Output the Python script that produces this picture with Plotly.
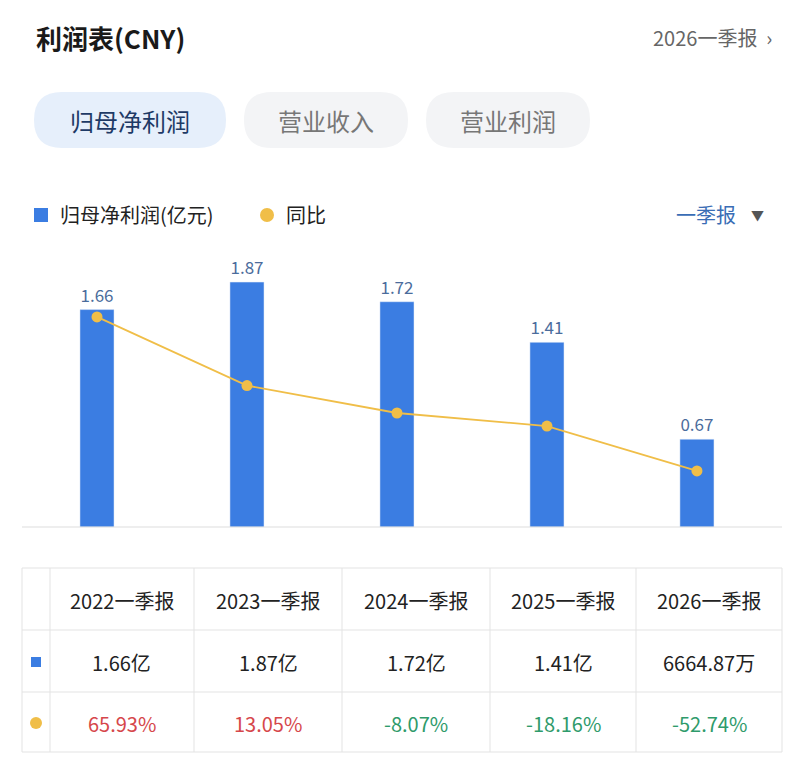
import plotly.graph_objects as go

# page body has an 8px margin, so the figure is drawn 8px in from the corner
OFF = 8
W, H = 804 - 2 * OFF, 781 - 2 * OFF
FONT = "Noto Sans CJK SC"

periods = ["2022一季报", "2023一季报", "2024一季报", "2025一季报", "2026一季报"]
profit = [1.66, 1.87, 1.72, 1.41, 0.67]
profit_text = ["1.66亿", "1.87亿", "1.72亿", "1.41亿", "6664.87万"]
yoy = [65.93, 13.05, -8.07, -18.16, -52.74]
tabs = ["归母净利润", "营业收入", "营业利润"]

BLUE = "#3B7DE2"
GOLD = "#F0BE48"
RED = "#D6474B"
GREEN = "#2F9B6B"


def px(x):
    return (x - OFF) / W


def py(y):
    return 1 - (y - OFF) / H


def pill(x0, x1, y0, y1):
    # rounded rectangle in pixel coords -> svg path in paper coords
    r = (y1 - y0) / 2
    pts = []
    pts.append(f"M{px(x0 + r)},{py(y0)}")
    pts.append(f"L{px(x1 - r)},{py(y0)}")
    pts.append(f"Q{px(x1)},{py(y0)} {px(x1)},{py(y0 + r)}")
    pts.append(f"Q{px(x1)},{py(y1)} {px(x1 - r)},{py(y1)}")
    pts.append(f"L{px(x0 + r)},{py(y1)}")
    pts.append(f"Q{px(x0)},{py(y1)} {px(x0)},{py(y0 + r)}")
    pts.append(f"Q{px(x0)},{py(y0)} {px(x0 + r)},{py(y0)} Z")
    return " ".join(pts)


fig = go.Figure()
xs = list(range(len(periods)))
fig.add_trace(go.Bar(
    x=xs, y=profit, width=0.227, marker_color=BLUE,
    text=[f"{v:.2f}" for v in profit], textposition="outside",
    textfont=dict(color="#4B6C9C", size=17), cliponaxis=False,
))
fig.add_trace(go.Scatter(
    x=xs, y=yoy, yaxis="y2", mode="lines+markers",
    line=dict(color=GOLD, width=1.8), marker=dict(color=GOLD, size=11),
))

shapes = []
ann = []

# header
ann.append(dict(x=px(34), y=py(38), text="<b>利润表(CNY)</b>", xanchor="left",
                font=dict(size=26, color="#1a1a1a")))
ann.append(dict(x=px(774), y=py(38), text="2026一季报  ›", xanchor="right",
                font=dict(size=20, color="#666")))

# tabs
tab_pos = [(34, 226), (244, 408), (426, 590)]
for i, (t, (x0, x1)) in enumerate(zip(tabs, tab_pos)):
    shapes.append(dict(type="path", xref="paper", yref="paper",
                       path=pill(x0, x1, 92, 148),
                       fillcolor="#E6EFFB" if i == 0 else "#F3F4F6",
                       line=dict(width=0), layer="below"))
    ann.append(dict(x=px((x0 + x1) / 2), y=py(120), text=t,
                    font=dict(size=24, color="#1E3A66" if i == 0 else "#777")))

# legend row
shapes.append(dict(type="rect", xref="paper", yref="paper", x0=px(34), x1=px(48),
                   y0=py(222), y1=py(208), fillcolor=BLUE, line=dict(width=0)))
ann.append(dict(x=px(58), y=py(215), text="归母净利润(亿元)", xanchor="left",
                font=dict(size=20, color="#222")))
shapes.append(dict(type="circle", xref="paper", yref="paper", x0=px(260), x1=px(274),
                   y0=py(222), y1=py(208), fillcolor=GOLD, line=dict(width=0)))
ann.append(dict(x=px(284), y=py(215), text="同比", xanchor="left",
                font=dict(size=20, color="#222")))
ann.append(dict(x=px(738), y=py(215), text="一季报", xanchor="right",
                font=dict(size=20, color="#3A6DB5")))
ann.append(dict(x=px(766), y=py(215), text="▼", xanchor="right",
                font=dict(size=13, color="#555")))

# baseline
shapes.append(dict(type="line", xref="paper", yref="paper", x0=px(22), x1=px(782),
                   y0=py(527), y1=py(527), line=dict(color="#DDD", width=1)))

# table
tx = [22, 50, 194, 342, 490, 636, 782]
ty = [568, 630, 692, 752]
for y in ty:
    shapes.append(dict(type="line", xref="paper", yref="paper", x0=px(22), x1=px(782),
                       y0=py(y), y1=py(y), line=dict(color="#E3E3E3", width=1)))
for x in tx:
    shapes.append(dict(type="line", xref="paper", yref="paper", x0=px(x), x1=px(x),
                       y0=py(568), y1=py(752), line=dict(color="#E3E3E3", width=1)))
for i in range(len(periods)):
    cx = px((tx[i + 1] + tx[i + 2]) / 2)
    ann.append(dict(x=cx, y=py(600), text=periods[i], font=dict(size=20, color="#222")))
    ann.append(dict(x=cx, y=py(662), text=profit_text[i], font=dict(size=20, color="#222")))
    ann.append(dict(x=cx, y=py(723), text=f"{yoy[i]:.2f}%",
                    font=dict(size=20, color=RED if yoy[i] > 0 else GREEN)))
shapes.append(dict(type="rect", xref="paper", yref="paper", x0=px(31), x1=px(41),
                   y0=py(667), y1=py(657), fillcolor=BLUE, line=dict(width=0)))
shapes.append(dict(type="circle", xref="paper", yref="paper", x0=px(30), x1=px(42),
                   y0=py(729), y1=py(717), fillcolor=GOLD, line=dict(width=0)))

for a in ann:
    a.setdefault("xanchor", "center")
    a.update(xref="paper", yref="paper", showarrow=False, yanchor="middle")

fig.update_layout(
    width=W, height=H, margin=dict(l=0, r=0, t=0, b=0),
    paper_bgcolor="white", plot_bgcolor="white", showlegend=False,
    font=dict(family=FONT),
    xaxis=dict(domain=[px(22), px(782)], range=[-0.5, 4.567], visible=False),
    yaxis=dict(domain=[py(527), py(250)], range=[0, 2.115], visible=False),
    yaxis2=dict(overlaying="y", range=[-95.9, 117.5], visible=False),
    shapes=shapes, annotations=ann,
)

fig.write_html("out.html")
